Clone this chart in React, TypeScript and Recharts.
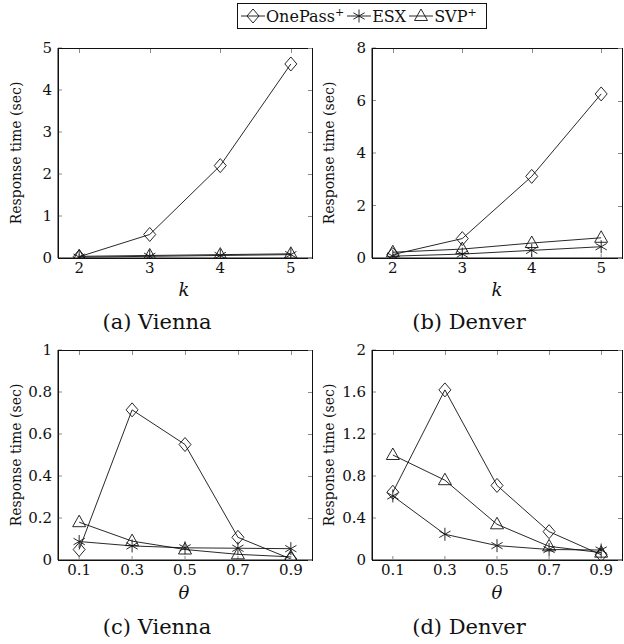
import React from 'react';
import { LineChart, Line, XAxis, YAxis } from 'recharts';

const kCats = [2, 3, 4, 5];
const thetaCats = [0.1, 0.3, 0.5, 0.7, 0.9];

const viennaKOnePass = [0.03, 0.56, 2.2, 4.62];
const viennaKEsx = [0.02, 0.04, 0.06, 0.08];
const viennaKSvp = [0.04, 0.06, 0.08, 0.1];

const denverKOnePass = [0.13, 0.74, 3.11, 6.25];
const denverKEsx = [0.07, 0.15, 0.29, 0.43];
const denverKSvp = [0.22, 0.34, 0.57, 0.77];

const viennaThetaOnePass = [0.05, 0.715, 0.55, 0.108, 0.005];
const viennaThetaEsx = [0.088, 0.067, 0.058, 0.056, 0.054];
const viennaThetaSvp = [0.18, 0.09, 0.05, 0.027, 0.015];

const denverThetaOnePass = [0.645, 1.62, 0.71, 0.27, 0.05];
const denverThetaEsx = [0.61, 0.245, 0.137, 0.1, 0.095];
const denverThetaSvp = [1.0, 0.76, 0.34, 0.13, 0.07];

const kTicks = [2, 3, 4, 5];
const thetaTicks = [0.1, 0.3, 0.5, 0.7, 0.9];
const viennaKYTicks = [0, 1, 2, 3, 4, 5];
const denverKYTicks = [0, 2, 4, 6, 8];
const viennaThetaYTicks = [0, 0.2, 0.4, 0.6, 0.8, 1];
const denverThetaYTicks = [0, 0.4, 0.8, 1.2, 1.6, 2];

const FONT = "'DejaVu Serif', 'Liberation Serif', serif";
const INK = '#111';
const TICK_GRAY = '#8a8a8a';
const TICK_LEN = 4;

const build = (xs: number[], a: number[], b: number[], c: number[]) =>
  xs.map((x, i) => ({ x, onePass: a[i], esx: b[i], svp: c[i] }));

const Diamond = (p: any) => {
  const { cx, cy } = p;
  if (cx == null || cy == null) return <g />;
  return (
    <path
      d={`M${cx},${cy - 7}L${cx + 6},${cy}L${cx},${cy + 7}L${cx - 6},${cy}Z`}
      fill="none"
      stroke={INK}
      strokeWidth={0.9}
    />
  );
};

const Star = (p: any) => {
  const { cx, cy } = p;
  if (cx == null || cy == null) return <g />;
  const r = 6.5;
  const dx = r * Math.cos(Math.PI / 6);
  const dy = r * Math.sin(Math.PI / 6);
  return (
    <path
      d={`M${cx},${cy - r}L${cx},${cy + r}M${cx - dx},${cy - dy}L${cx + dx},${cy + dy}M${cx - dx},${cy + dy}L${cx + dx},${cy - dy}`}
      fill="none"
      stroke={INK}
      strokeWidth={0.9}
    />
  );
};

const Triangle = (p: any) => {
  const { cx, cy } = p;
  if (cx == null || cy == null) return <g />;
  return (
    <path
      d={`M${cx},${cy - 7}L${cx + 6.5},${cy + 4.5}L${cx - 6.5},${cy + 4.5}Z`}
      fill="none"
      stroke={INK}
      strokeWidth={0.9}
    />
  );
};

interface PanelProps {
  data: any[];
  left: number;
  top: number;
  box: [number, number, number, number]; // x0, x1, y0, y1 in page px
  xDomain: [number, number];
  xTicks: number[];
  yDomain: [number, number];
  yTicks: number[];
}

const W = 312;
const H = 300;
const XAXIS_H = 40;

// box around the plot area (page coordinates), gray inward ticks on top and right
function Frame({ box, xDomain, xTicks, yDomain, yTicks }: PanelProps) {
  const [x0, x1, y0, y1] = box;
  const w = x1 - x0;
  const h = y1 - y0;
  const px = (v: number) => ((v - xDomain[0]) / (xDomain[1] - xDomain[0])) * w;
  const py = (v: number) => h - ((v - yDomain[0]) / (yDomain[1] - yDomain[0])) * h;
  return (
    <div
      style={{
        position: 'absolute',
        left: x0,
        top: y0,
        width: w + 1,
        height: h + 1,
        border: `1px solid ${INK}`,
        boxSizing: 'border-box',
        pointerEvents: 'none',
      }}
    >
      {xTicks.map((t) => (
        <div
          key={`tx${t}`}
          style={{ position: 'absolute', left: px(t) - 1, top: 0, width: 1, height: TICK_LEN, background: TICK_GRAY }}
        />
      ))}
      {yTicks.map((t) => (
        <div
          key={`ty${t}`}
          style={{ position: 'absolute', right: 0, top: py(t) - 1, width: TICK_LEN, height: 1, background: TICK_GRAY }}
        />
      ))}
    </div>
  );
}

function Panel(props: PanelProps) {
  const { data, left, top, box, xDomain, xTicks, yDomain, yTicks } = props;
  const [x0, x1, y0, y1] = box;
  const yAxisW = x0 - left;
  const margin = {
    top: y0 - top,
    left: 0,
    right: left + W - x1,
    bottom: top + H - y1 - XAXIS_H,
  };
  const tickStyle = { fontSize: 15, fill: INK, fontFamily: FONT };
  return (
    <div style={{ position: 'absolute', left, top, width: W, height: H }}>
      <LineChart width={W} height={H} data={data} margin={margin}>
        <XAxis
          dataKey="x"
          type="number"
          domain={xDomain}
          ticks={xTicks}
          allowDataOverflow
          height={XAXIS_H}
          tickSize={-TICK_LEN}
          tickMargin={8}
          axisLine={{ stroke: INK, strokeWidth: 1 }}
          tickLine={{ stroke: TICK_GRAY }}
          tick={tickStyle}
          interval={0}
        />
        <YAxis
          type="number"
          domain={yDomain}
          ticks={yTicks}
          allowDataOverflow
          width={yAxisW}
          tickSize={-TICK_LEN}
          tickMargin={10}
          axisLine={{ stroke: INK, strokeWidth: 1 }}
          tickLine={{ stroke: TICK_GRAY }}
          tick={tickStyle}
          interval={0}
        />
        <Line
          dataKey="onePass"
          stroke={INK}
          strokeWidth={0.9}
          dot={Diamond}
          activeDot={false}
          isAnimationActive={false}
        />
        <Line
          dataKey="esx"
          stroke={INK}
          strokeWidth={0.9}
          dot={Star}
          activeDot={false}
          isAnimationActive={false}
        />
        <Line
          dataKey="svp"
          stroke={INK}
          strokeWidth={0.9}
          dot={Triangle}
          activeDot={false}
          isAnimationActive={false}
        />
      </LineChart>
    </div>
  );
}

const Centered = ({ cx, cy, size, italic, children }: any) => (
  <div
    style={{
      position: 'absolute',
      left: cx - 100,
      top: cy - size * 0.6,
      width: 200,
      textAlign: 'center',
      fontSize: size,
      lineHeight: `${size * 1.2}px`,
      fontStyle: italic ? 'italic' : 'normal',
      whiteSpace: 'nowrap',
    }}
  >
    {children}
  </div>
);

const YLabel = ({ cx, cy }: any) => (
  <div
    style={{
      position: 'absolute',
      left: cx,
      top: cy,
      fontSize: 14,
      lineHeight: '18px',
      whiteSpace: 'nowrap',
      transform: 'translate(-50%, -50%) rotate(-90deg)',
    }}
  >
    Response time (sec)
  </div>
);

const LegendMark = ({ Mark }: any) => (
  <svg width={26} height={20} style={{ display: 'block' }}>
    <line x1={1} y1={10} x2={25} y2={10} stroke={INK} strokeWidth={0.9} />
    <Mark cx={13} cy={10} />
  </svg>
);

function LegendBox() {
  return (
    <div
      style={{
        position: 'absolute',
        left: 237,
        top: 3,
        width: 250,
        height: 26,
        border: `1px solid ${INK}`,
        display: 'flex',
        alignItems: 'center',
        paddingLeft: 2,
        fontSize: 16,
        boxSizing: 'border-box',
      }}
    >
      <LegendMark Mark={Diamond} />
      <span style={{ marginRight: 2 }}>
        OnePass<sup style={{ fontSize: 11, verticalAlign: 6 }}>+</sup>
      </span>
      <LegendMark Mark={Star} />
      <span style={{ marginRight: 2 }}>ESX</span>
      <LegendMark Mark={Triangle} />
      <span>
        SVP<sup style={{ fontSize: 11, verticalAlign: 6 }}>+</sup>
      </span>
    </div>
  );
}

const panels: PanelProps[] = [
  {
    data: build(kCats, viennaKOnePass, viennaKEsx, viennaKSvp),
    left: 0,
    top: 20,
    box: [58, 312, 48, 258],
    xDomain: [1.7, 5.3],
    xTicks: kTicks,
    yDomain: [0, 5],
    yTicks: viennaKYTicks,
  },
  {
    data: build(kCats, denverKOnePass, denverKEsx, denverKSvp),
    left: 312,
    top: 20,
    box: [372, 622, 48, 258],
    xDomain: [1.7, 5.3],
    xTicks: kTicks,
    yDomain: [0, 8],
    yTicks: denverKYTicks,
  },
  {
    data: build(thetaCats, viennaThetaOnePass, viennaThetaEsx, viennaThetaSvp),
    left: 0,
    top: 322,
    box: [58, 312, 350, 560],
    xDomain: [0.02, 0.98],
    xTicks: thetaTicks,
    yDomain: [0, 1],
    yTicks: viennaThetaYTicks,
  },
  {
    data: build(thetaCats, denverThetaOnePass, denverThetaEsx, denverThetaSvp),
    left: 312,
    top: 322,
    box: [372, 622, 350, 560],
    xDomain: [0.02, 0.98],
    xTicks: thetaTicks,
    yDomain: [0, 2],
    yTicks: denverThetaYTicks,
  },
];

export default function App() {
  return (
    <div
      style={{
        position: 'absolute',
        left: 0,
        top: 0,
        width: 624,
        height: 644,
        background: '#fff',
        fontFamily: FONT,
        color: INK,
        overflow: 'hidden',
      }}
    >
      <LegendBox />
      {panels.map((p, i) => (
        <Panel key={`p${i}`} {...p} />
      ))}
      {panels.map((p, i) => (
        <Frame key={`f${i}`} {...p} />
      ))}

      <YLabel cx={16} cy={153} />
      <YLabel cx={329} cy={153} />
      <YLabel cx={16} cy={455} />
      <YLabel cx={329} cy={455} />

      <Centered cx={184} cy={290} size={18} italic>k</Centered>
      <Centered cx={497} cy={290} size={18} italic>k</Centered>
      <Centered cx={184} cy={593} size={18} italic>θ</Centered>
      <Centered cx={497} cy={593} size={18} italic>θ</Centered>

      <Centered cx={157} cy={323} size={21}>(a) Vienna</Centered>
      <Centered cx={469} cy={323} size={21}>(b) Denver</Centered>
      <Centered cx={157} cy={628} size={21}>(c) Vienna</Centered>
      <Centered cx={469} cy={628} size={21}>(d) Denver</Centered>
    </div>
  );
}
